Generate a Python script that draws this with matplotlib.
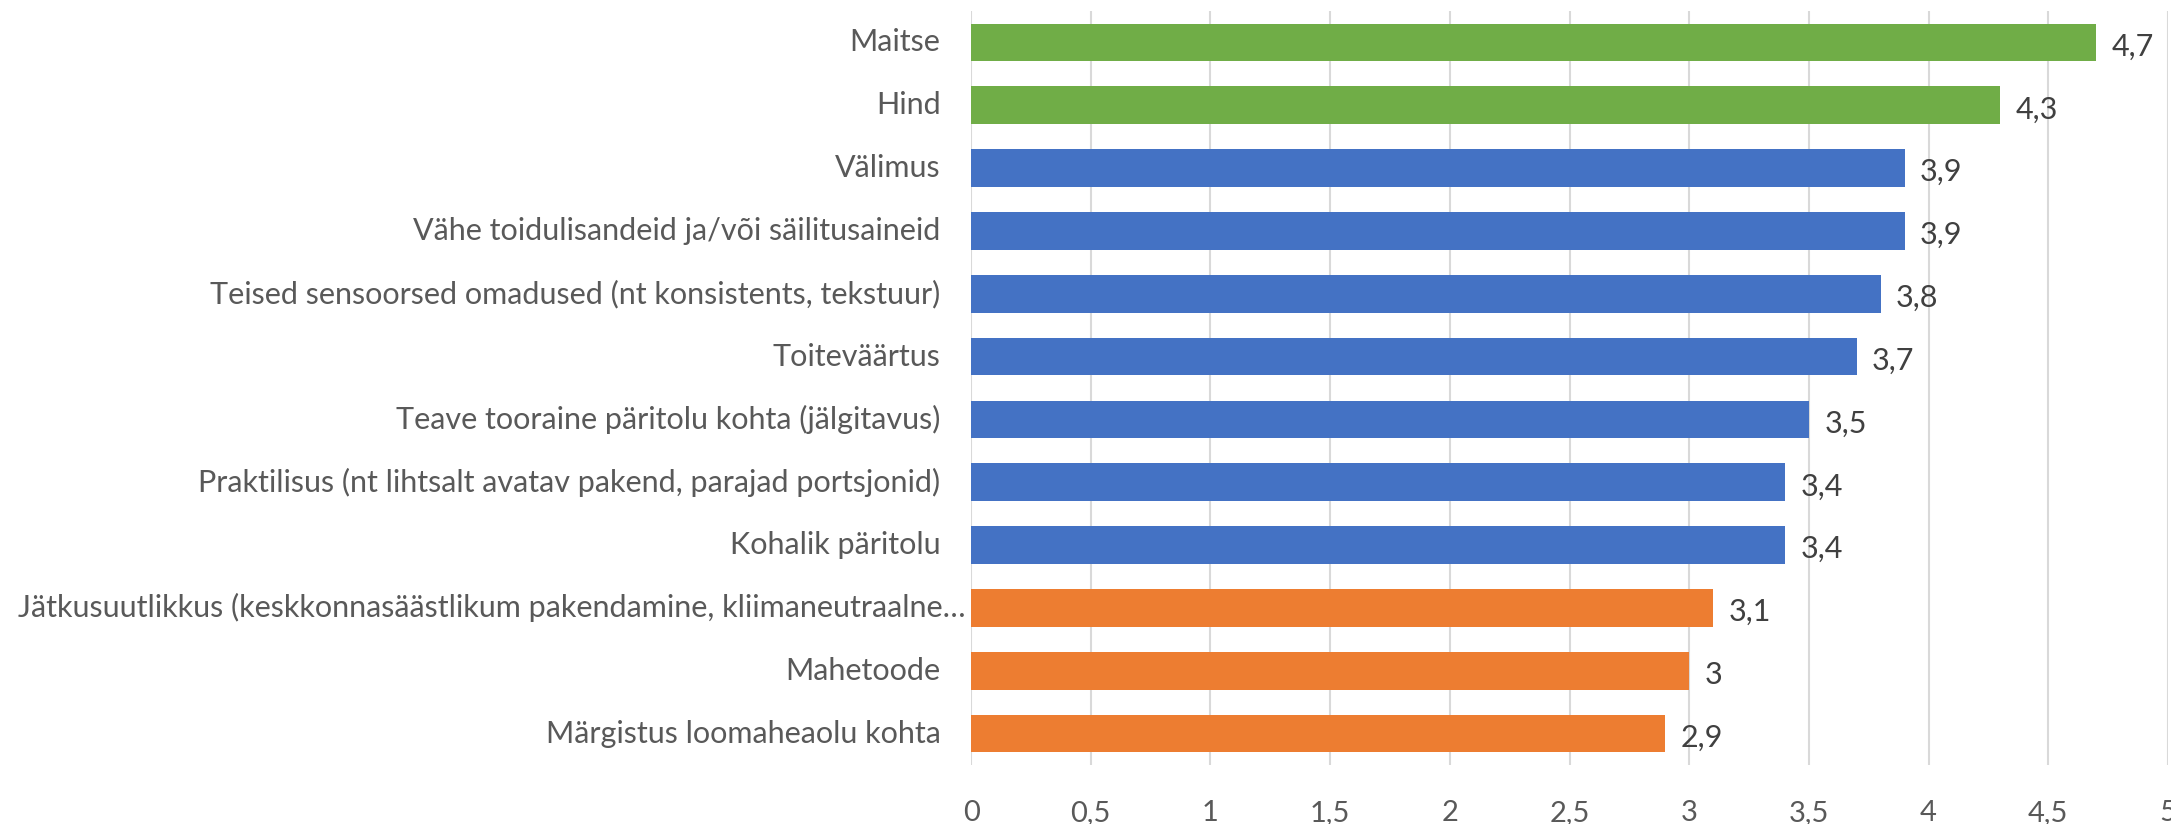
import matplotlib
matplotlib.use("Agg")
import matplotlib.pyplot as plt
from matplotlib.ticker import MultipleLocator, FuncFormatter

categories = [
    "Maitse",
    "Hind",
    "Välimus",
    "Vähe toidulisandeid ja/või säilitusaineid",
    "Teised sensoorsed omadused (nt konsistents, tekstuur)",
    "Toiteväärtus",
    "Teave tooraine päritolu kohta (jälgitavus)",
    "Praktilisus (nt lihtsalt avatav pakend, parajad portsjonid)",
    "Kohalik päritolu",
    "Jätkusuutlikkus (keskkonnasäästlikum pakendamine, kliimaneutraalne…",
    "Mahetoode",
    "Märgistus loomaheaolu kohta",
]
values = [4.7, 4.3, 3.9, 3.9, 3.8, 3.7, 3.5, 3.4, 3.4, 3.1, 3.0, 2.9]
groups = ["top", "top", "mid", "mid", "mid", "mid", "mid", "mid", "mid",
          "low", "low", "low"]

group_colors = {"top": "#70AD47", "mid": "#4472C4", "low": "#ED7D31"}


def comma(v, pos=None):
    return f"{v:g}".replace(".", ",")


plt.rcParams["font.family"] = ["Lato", "DejaVu Sans"]

fig = plt.figure(figsize=(21.71, 8.24), dpi=100)
ax = fig.add_axes([0.4473, 0.0716, 0.5513, 0.9151])

ypos = list(range(len(categories)))
colors = [group_colors[g] for g in groups]
bars = ax.barh(ypos, values, height=0.6, color=colors, zorder=3)

for rect, v in zip(bars, values):
    ax.annotate(comma(v), (rect.get_width(), rect.get_y() + rect.get_height() / 2),
                xytext=(11, -3), textcoords="offset points",
                ha="left", va="center", fontsize=22, color="#404040")

# category labels; the long truncated one sits closer to the axis like in Excel
ax.set_yticks(ypos)
ax.set_yticklabels([])
for y, name in zip(ypos, categories):
    gap = -4 if name.endswith("…") else -22
    ax.annotate(name, (0, y), xycoords=("axes fraction", "data"),
                xytext=(gap, 0), textcoords="offset points",
                ha="right", va="center", fontsize=22, color="#595959")

ax.set_ylim(len(categories) - 0.5, -0.5)
ax.set_xlim(0, 5)
ax.xaxis.set_major_locator(MultipleLocator(0.5))
ax.xaxis.set_major_formatter(FuncFormatter(comma))
ax.tick_params(axis="x", labelsize=21, labelcolor="#595959", length=0, pad=25)
ax.tick_params(axis="y", length=0)
ax.grid(axis="x", color="#D9D9D9", linewidth=1.5, zorder=0)
for s in ax.spines.values():
    s.set_visible(False)

fig.savefig("out.png", dpi=100)
